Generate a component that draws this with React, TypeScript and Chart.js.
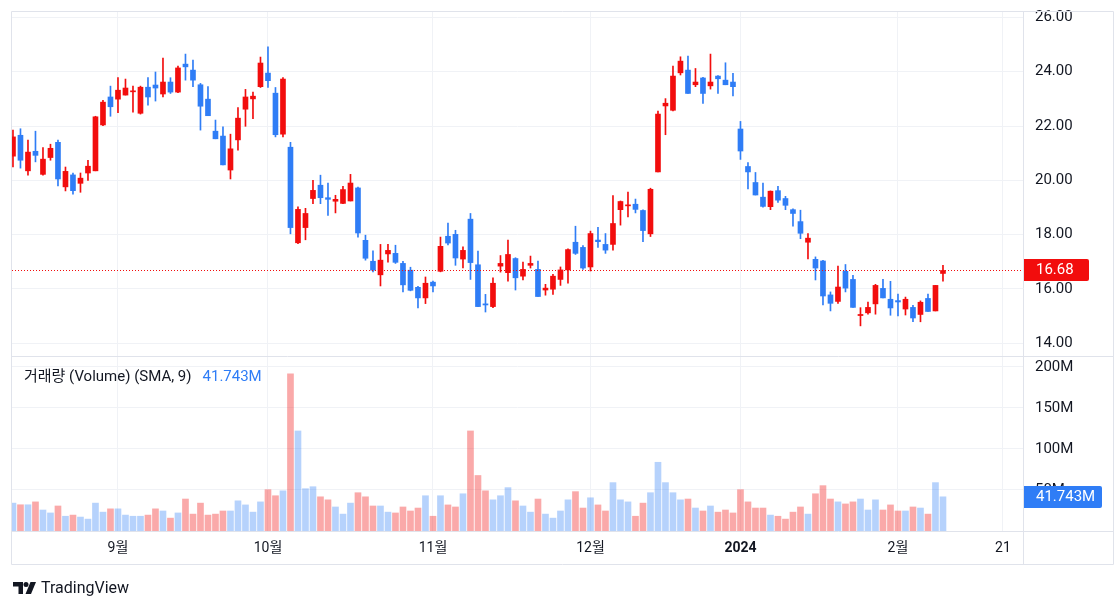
import React, { useEffect, useRef } from 'react';
import { Chart, registerables } from 'chart.js';

Chart.register(...registerables);

// ---- Data (daily candles, Aug 14 2023 → Feb 9 2024) ----
const opens = [
  20.89, 21.66, 20.35, 21.07, 20.22, 20.84, 21.40, 19.76, 20.20, 19.89,
  20.27, 20.35, 22.04, 23.07, 22.99, 23.14, 23.26, 22.47, 23.43, 23.51,
  23.18, 23.62, 23.25, 24.28, 24.06, 23.52, 22.99, 21.81, 21.63, 20.38,
  21.49, 22.62, 23.00, 23.45, 23.95, 23.21, 21.70, 21.22, 17.70, 18.26,
  19.33, 19.82, 19.36, 19.23, 19.15, 19.24, 19.72, 17.79, 17.02, 16.52,
  17.29, 17.31, 16.94, 16.69, 16.06, 15.67, 16.25, 16.65, 17.94, 18.01,
  17.10, 18.57, 16.89, 15.45, 15.35, 16.84, 16.60, 17.12, 16.47, 16.87,
  16.72, 15.96, 15.99, 16.35, 16.70, 17.72, 17.53, 16.81, 17.80, 17.64,
  17.64, 18.92, 19.06, 19.12, 18.89, 18.03, 20.31, 22.74, 22.58, 23.96,
  24.06, 23.52, 23.77, 23.48, 23.84, 23.69, 23.62, 21.89, 20.51, 19.92,
  19.38, 19.03, 19.62, 19.33, 18.92, 18.48, 17.72, 17.09, 17.03, 15.78,
  15.54, 16.65, 16.35, 15.02, 15.12, 15.45, 16.02, 15.62, 15.57, 15.26,
  15.32, 15.06, 15.65, 15.19, 16.57,
];
const highs = [
  21.85, 21.90, 21.48, 21.81, 21.21, 21.33, 21.48, 20.49, 20.27, 20.27,
  20.74, 22.36, 22.95, 23.47, 23.78, 23.73, 23.47, 23.47, 23.78, 23.99,
  24.50, 23.78, 24.21, 24.65, 24.43, 23.57, 23.45, 22.22, 21.97, 21.70,
  22.68, 23.35, 23.25, 24.54, 24.92, 23.42, 23.78, 21.40, 19.02, 18.97,
  20.00, 20.19, 19.90, 19.45, 19.78, 20.22, 19.75, 17.98, 17.40, 17.64,
  17.64, 17.61, 17.02, 16.80, 16.10, 16.44, 16.29, 17.91, 18.43, 18.16,
  17.55, 18.78, 17.39, 15.80, 16.41, 17.23, 17.80, 17.15, 16.99, 17.21,
  17.03, 16.17, 16.54, 16.81, 17.48, 18.31, 17.60, 18.13, 18.27, 18.04,
  19.44, 19.24, 19.57, 19.31, 18.91, 19.71, 22.55, 23.01, 24.21, 24.55,
  24.58, 24.12, 23.79, 24.65, 23.86, 24.33, 23.94, 22.17, 20.65, 20.29,
  19.90, 19.61, 19.78, 19.41, 18.95, 18.90, 18.04, 17.18, 17.05, 15.89,
  16.84, 16.90, 16.50, 15.31, 15.52, 16.17, 16.35, 16.28, 15.81, 15.70,
  15.40, 15.56, 15.81, 16.13, 16.87,
];
const lows = [
  20.49, 20.45, 20.19, 20.68, 20.19, 20.74, 19.79, 19.61, 19.49, 19.56,
  20.00, 20.35, 22.01, 22.36, 22.49, 23.14, 22.51, 22.44, 22.77, 22.92,
  23.07, 23.20, 23.23, 23.69, 23.45, 21.85, 22.38, 21.53, 20.57, 20.05,
  21.11, 21.99, 22.27, 23.42, 23.42, 21.60, 21.60, 18.03, 17.67, 17.81,
  19.14, 19.14, 18.71, 18.80, 19.14, 19.24, 17.91, 17.06, 16.63, 16.11,
  16.99, 16.94, 15.89, 15.93, 15.30, 15.46, 15.89, 16.63, 17.62, 16.87,
  16.77, 16.35, 15.35, 15.15, 15.31, 16.62, 16.29, 15.96, 16.33, 16.77,
  15.72, 15.77, 15.80, 16.13, 16.21, 17.27, 16.72, 16.66, 17.53, 17.31,
  17.43, 18.35, 18.65, 18.80, 17.74, 17.93, 20.31, 21.68, 22.56, 23.88,
  23.20, 23.45, 22.83, 23.36, 23.20, 23.52, 23.11, 20.77, 19.68, 19.46,
  19.01, 18.92, 19.19, 18.92, 18.31, 17.85, 17.11, 16.33, 15.41, 15.19,
  15.47, 15.89, 15.32, 14.64, 15.07, 15.07, 15.67, 15.03, 15.01, 15.04,
  14.79, 14.79, 15.17, 15.19, 16.29,
];
const closes = [
  21.60, 20.74, 21.04, 20.92, 20.78, 21.18, 20.05, 20.33, 19.62, 20.08,
  20.52, 22.34, 22.88, 22.71, 23.32, 23.40, 23.29, 23.43, 23.07, 23.40,
  23.62, 23.25, 24.14, 24.18, 23.69, 22.73, 22.38, 21.53, 20.57, 21.16,
  22.29, 23.07, 23.10, 24.32, 23.67, 21.68, 23.73, 18.26, 18.93, 18.78,
  19.63, 19.36, 19.30, 19.30, 19.66, 19.90, 18.06, 17.13, 16.69, 17.06,
  17.42, 16.98, 16.15, 15.95, 15.67, 16.21, 16.11, 17.57, 17.69, 17.14,
  17.42, 16.97, 15.35, 15.41, 16.21, 16.94, 17.27, 16.41, 16.72, 16.94,
  15.72, 16.03, 16.47, 16.70, 17.45, 17.31, 16.77, 18.04, 17.74, 17.43,
  18.41, 19.22, 19.08, 18.93, 18.15, 19.67, 22.44, 22.84, 23.84, 24.39,
  23.20, 23.62, 23.20, 23.62, 23.74, 23.52, 23.45, 21.08, 20.31, 19.46,
  19.04, 19.60, 19.27, 19.08, 18.78, 18.05, 17.87, 16.77, 15.74, 15.47,
  16.07, 16.03, 15.32, 15.06, 15.32, 16.13, 15.67, 15.30, 15.52, 15.62,
  14.93, 15.51, 15.17, 16.13, 16.68,
];
// volume in millions
const volumes = [
  34, 32, 32, 35.5, 25.6, 22, 30.5, 18, 19.4, 17,
  14.5, 34, 23, 27, 27, 19.4, 18, 18, 19.4, 27,
  24.4, 15.7, 22, 39, 20.6, 34, 19.4, 20.6, 24.4, 24.4,
  36.8, 31.8, 23, 35.5, 50.4, 43, 49, 191.6, 122, 51.6,
  54, 41.7, 38, 29.3, 20.6, 34, 46.7, 41.7, 30.5, 30.5,
  23, 22, 29.3, 24.4, 28, 43, 18, 43, 31.8, 29.3,
  45.4, 122, 67.7, 49, 38, 43, 52.9, 36.8, 30.5, 23,
  39, 20.6, 15.7, 24.4, 38, 48, 28, 40.5, 31.8, 24.4,
  59, 38, 35.5, 18, 34, 46.7, 83.8, 59, 46.7, 38,
  39, 28, 24.4, 30.5, 23, 25.6, 22, 50.4, 35.5, 28,
  28, 19.4, 18, 14.5, 23, 29.3, 20.6, 45.4, 55.3, 39,
  35.5, 33, 35.5, 39, 25.6, 38, 25.6, 31.8, 24.4, 24.4,
  29.3, 28, 20.6, 59, 41.7,
];

const timeTickIndex = [14, 34, 56, 77, 97, 118, 132];
const timeTickLabels = ['9월', '10월', '11월', '12월', '2024', '2월', '21'];
const priceTicks = [14, 16, 18, 20, 22, 24, 26];
const volumeTicks = [50, 100, 150, 200];
const lastPrice = 16.68;
const volumeSma = 41.743;
const legendTitle = '거래량 (Volume) (SMA, 9)';

// ---- Styles ----
const UP = '#f20d0d';
const DOWN = '#2f7df6';
const VOL_RISE = 'rgba(47,125,246,0.35)';
const VOL_FALL = 'rgba(242,40,40,0.4)';
const GRID = '#f0f2f6';
const FRAME = '#e0e3eb';
const TEXT = '#131722';
const FONT = 'Roboto, "Noto Sans CJK KR", sans-serif';

export default function App() {
  const ref = useRef<HTMLCanvasElement | null>(null);

  useEffect(() => {
    const canvas = ref.current;
    if (!canvas) return;
    const idx = closes.map((_, i) => i);
    const up = (i: number) => closes[i] >= opens[i];

    const noPad = (axis: any) => {
      axis.paddingTop = 0;
      axis.paddingBottom = 0;
      axis.paddingLeft = 0;
      axis.paddingRight = 0;
    };

    const overlay = {
      id: 'tvOverlay',
      afterDraw(chart: any) {
        const { ctx, chartArea, scales } = chart;
        const y = scales.y;
        const yv = scales.yv;
        ctx.save();
        // last price dotted line
        const yp = Math.round(y.getPixelForValue(lastPrice)) + 0.5;
        ctx.strokeStyle = UP;
        ctx.lineWidth = 1;
        ctx.setLineDash([1, 2]);
        ctx.beginPath();
        ctx.moveTo(chartArea.left, yp);
        ctx.lineTo(chartArea.right, yp);
        ctx.stroke();
        ctx.setLineDash([]);

        // frame lines
        ctx.strokeStyle = FRAME;
        ctx.beginPath();
        ctx.rect(11.5, 11.5, 1102, 553);
        const sep = Math.round(y.bottom) + 0.5;
        ctx.moveTo(12, sep);
        ctx.lineTo(1114, sep);
        const tb = Math.round(chartArea.bottom) + 0.5;
        ctx.moveTo(12, tb);
        ctx.lineTo(1114, tb);
        const xr = Math.round(chartArea.right) + 0.5;
        ctx.moveTo(xr, 12);
        ctx.lineTo(xr, 565);
        ctx.stroke();

        // legend in volume pane
        ctx.font = `15px ${FONT}`;
        ctx.textBaseline = 'middle';
        ctx.textAlign = 'left';
        ctx.fillStyle = TEXT;
        const ly = yv.top + 21;
        ctx.fillText(legendTitle, 24, ly);
        const w = ctx.measureText(legendTitle).width;
        ctx.fillStyle = DOWN;
        ctx.fillText(volumeSma.toFixed(3) + 'M', 24 + w + 11, ly);

        // price label box
        const bx = chartArea.right + 1;
        ctx.fillStyle = UP;
        ctx.beginPath();
        (ctx as any).roundRect(bx, yp - 11.5, 65, 22, [0, 2, 2, 0]);
        ctx.fill();
        ctx.fillStyle = '#ffffff';
        ctx.fillText(lastPrice.toFixed(2), bx + 12, yp);

        // volume label box
        const yvp = Math.round(yv.getPixelForValue(volumeSma)) + 0.5;
        ctx.fillStyle = DOWN;
        ctx.beginPath();
        (ctx as any).roundRect(bx, yvp - 11.5, 78, 22, [0, 2, 2, 0]);
        ctx.fill();
        ctx.fillStyle = '#ffffff';
        ctx.fillText(volumeSma.toFixed(3) + 'M', bx + 12, yvp);
        ctx.restore();
      },
    };

    const chart = new Chart(canvas, {
      type: 'bar',
      data: {
        datasets: [
          {
            label: 'body',
            data: idx.map((i) => ({ x: i, y: [opens[i], closes[i]] })) as any,
            backgroundColor: idx.map((i) => (up(i) ? UP : DOWN)),
            barThickness: 5,
            minBarLength: 1,
            grouped: false,
            borderWidth: 0,
            xAxisID: 'x',
            yAxisID: 'y',
          },
          {
            label: 'wick',
            data: idx.map((i) => ({ x: i, y: [lows[i], highs[i]] })) as any,
            backgroundColor: idx.map((i) => (up(i) ? UP : DOWN)),
            barThickness: 1,
            grouped: false,
            borderWidth: 0,
            xAxisID: 'x',
            yAxisID: 'y',
          },
          {
            label: 'volume',
            data: idx.map((i) => ({ x: i, y: volumes[i] })) as any,
            backgroundColor: idx.map((i) => (up(i) ? VOL_RISE : VOL_FALL)),
            barThickness: 6,
            grouped: false,
            borderWidth: 0,
            xAxisID: 'x',
            yAxisID: 'yv',
          },
        ],
      },
      options: {
        responsive: false,
        animation: false,
        devicePixelRatio: 1,
        layout: { padding: { left: 12, top: 12, right: 4, bottom: 44 } },
        plugins: { legend: { display: false }, tooltip: { enabled: false } },
        scales: {
          x: {
            type: 'linear',
            position: 'bottom',
            min: -0.13,
            max: 134.67,
            offset: false,
            bounds: 'data',
            grid: { color: GRID, drawTicks: false, offset: false },
            border: { display: false },
            ticks: {
              color: TEXT,
              padding: 9,
              maxRotation: 0,
              autoSkip: false,
              font: (c: any) => ({
                family: FONT,
                size: 14,
                weight: c.tick && c.tick.label === '2024' ? 'bold' : 'normal',
              }),
              callback: (v: any) => {
                const k = timeTickIndex.indexOf(Number(v));
                return k >= 0 ? timeTickLabels[k] : '';
              },
            },
            afterBuildTicks: (axis: any) => {
              axis.ticks = timeTickIndex.map((v) => ({ value: v }));
            },
            afterFit: (axis: any) => {
              axis.height = 34;
              noPad(axis);
            },
          } as any,
          y: {
            type: 'linear',
            position: 'right',
            stack: 'panes',
            stackWeight: 344,
            min: 13.53,
            max: 26.2,
            bounds: 'data',
            grid: { color: GRID, drawTicks: false },
            border: { display: false },
            ticks: {
              color: TEXT,
              padding: 12,
              autoSkip: false,
              font: { family: FONT, size: 15 },
              callback: (v: any) => Number(v).toFixed(2),
            },
            afterBuildTicks: (axis: any) => {
              axis.ticks = priceTicks.map((v) => ({ value: v }));
            },
            afterFit: (axis: any) => {
              axis.width = 91;
              noPad(axis);
            },
          } as any,
          yv: {
            type: 'linear',
            position: 'right',
            stack: 'panes',
            stackWeight: 175,
            min: 0,
            max: 213.4,
            bounds: 'data',
            grid: { color: GRID, drawTicks: false },
            border: { display: false },
            ticks: {
              color: TEXT,
              padding: 12,
              autoSkip: false,
              font: { family: FONT, size: 15 },
              callback: (v: any) => `${v}M`,
            },
            afterBuildTicks: (axis: any) => {
              axis.ticks = volumeTicks.map((v) => ({ value: v }));
            },
            afterFit: (axis: any) => {
              axis.width = 91;
              noPad(axis);
            },
          } as any,
        },
      },
      plugins: [overlay],
    });
    return () => chart.destroy();
  }, []);

  return (
    <div style={{ position: 'absolute', left: 0, top: 0, width: 1118, height: 609, background: '#fff' }}>
      <canvas ref={ref} width={1118} height={609} style={{ display: 'block' }} />
      <div
        style={{
          position: 'absolute',
          left: 13,
          top: 578,
          display: 'flex',
          alignItems: 'center',
          gap: 4,
          color: TEXT,
          fontFamily: FONT,
          fontSize: 16,
        }}
      >
        <svg width="24" height="14" viewBox="0 0 24 14">
          <path d="M0 1h10v12H5.5V5.5H0z" fill={TEXT} />
          <circle cx="13" cy="3.5" r="2.5" fill={TEXT} />
          <path d="M17.5 1h5.5l-5 12h-5.5z" fill={TEXT} />
        </svg>
        <span>TradingView</span>
      </div>
    </div>
  );
}
